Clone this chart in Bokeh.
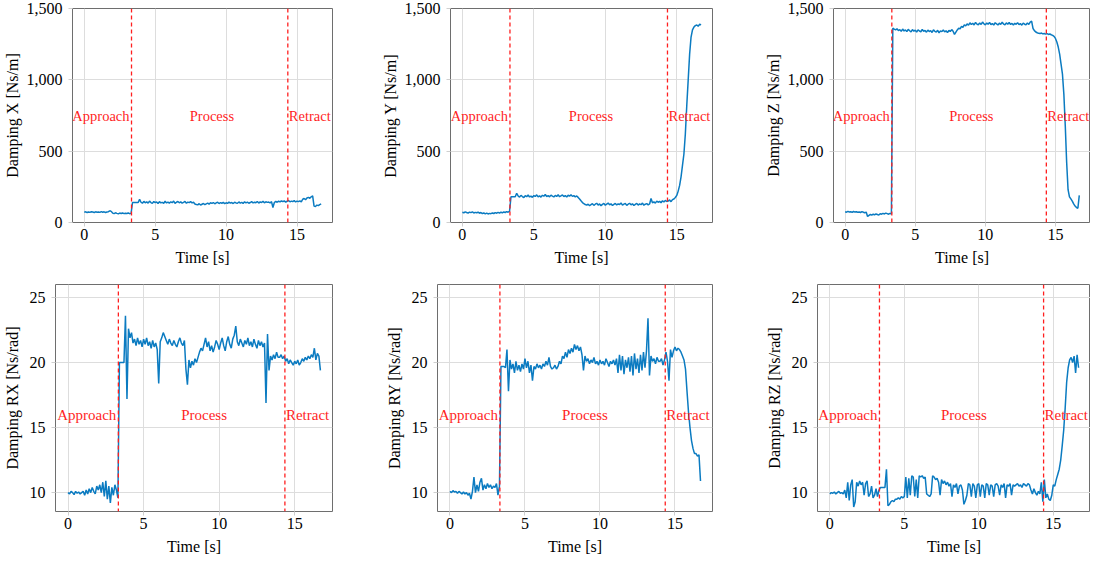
from bokeh.plotting import figure
from bokeh.layouts import column, row
from bokeh.models import Range1d, FixedTicker, NumeralTickFormatter, Span, ColumnDataSource
from bokeh.core.properties import value
from bokeh.embed import file_html
from bokeh.resources import INLINE

# ---------------- data (sampled every 0.1 s, 0.0 .. 16.7 s) ----------------
N = 168
time_s = [round(i * 0.1, 1) for i in range(N)]

damping_x = [
    72, 75, 70, 74, 71, 76, 73, 70, 75, 72,
    74, 71, 76, 72, 75, 70, 73, 76, 82, 78,
    66, 62, 68, 64, 61, 66, 63, 67, 62, 65,
    63, 67, 62, 64, 140, 140, 140, 140, 140, 162,
    142, 135, 148, 138, 145, 136, 150, 140, 134, 147,
    139, 144, 133, 146, 138, 141, 135, 149, 137, 143,
    136, 145, 139, 150, 134, 142, 147, 138, 144, 136,
    141, 148, 135, 143, 139, 146, 137, 142, 130, 126,
    124, 132, 122, 128, 133, 125, 131, 136, 129, 138,
    134, 140, 131, 137, 142, 133, 139, 135, 141, 132,
    138, 134, 143, 136, 140, 133, 142, 137, 135, 144,
    136, 141, 134, 145, 138, 143, 135, 140, 146, 137,
    142, 139, 147, 136, 144, 140, 148, 138, 145, 141,
    143, 137, 146, 105, 140, 148, 142, 150, 144, 152,
    146, 151, 143, 149, 154, 145, 150, 147, 153, 144,
    150, 146, 152, 145, 163, 168, 160, 172, 176, 170,
    180, 186, 115, 112, 122, 118, 125, 130,
]

damping_y = [
    72, 68, 75, 70, 66, 73, 69, 74, 67, 71,
    68, 72, 65, 70, 63, 67, 61, 66, 60, 64,
    62, 67, 63, 69, 65, 71, 66, 72, 68, 74,
    70, 76, 72, 78, 180, 180, 180, 180, 205, 186,
    178, 190, 182, 175, 188, 181, 193, 179, 185, 176,
    189, 183, 194, 180, 187, 178, 191, 184, 196, 182,
    188, 180, 192, 185, 179, 190, 183, 194, 181, 187,
    193, 182, 189, 178, 191, 185, 195, 183, 188, 180,
    186, 176, 165, 152, 140, 133, 126, 122, 128, 118,
    125, 132, 120, 128, 135, 122, 130, 118, 127, 134,
    121, 129, 136, 124, 131, 119, 127, 134, 123, 130,
    126, 137, 122, 129, 133, 120, 128, 135, 124, 131,
    119, 127, 134, 122, 130, 125, 136, 121, 128, 132,
    124, 130, 168, 138, 145, 136, 150, 142, 148, 139,
    152, 144, 155, 147, 150, 158, 146, 160, 165, 175,
    190, 220, 260, 320, 400, 480, 620, 820, 1000, 1180,
    1300, 1350, 1370, 1380, 1385, 1375, 1390, 1385,
]

damping_z = [
    75, 72, 78, 74, 76, 71, 77, 73, 75, 72,
    74, 70, 76, 72, 68, 73, 42, 50, 56, 52,
    58, 54, 60, 56, 52, 62, 58, 64, 60, 66,
    62, 58, 64, 60, 1362, 1355, 1350, 1358, 1345, 1352,
    1340, 1356, 1342, 1350, 1338, 1354, 1344, 1336, 1352, 1341,
    1348, 1335, 1350, 1342, 1337, 1353, 1340, 1346, 1334, 1349,
    1338, 1345, 1332, 1350, 1340, 1335, 1347, 1330, 1343, 1338,
    1349, 1336, 1344, 1331, 1346, 1339, 1352, 1341, 1318, 1335,
    1350, 1362, 1358, 1375, 1368, 1385, 1378, 1392, 1383, 1400,
    1388, 1397, 1385, 1402, 1391, 1386, 1399, 1388, 1405, 1392,
    1386, 1398, 1390, 1403, 1387, 1395, 1384, 1400, 1392, 1385,
    1397, 1389, 1404, 1391, 1386, 1399, 1390, 1402, 1388, 1395,
    1384, 1396, 1389, 1401, 1387, 1394, 1383, 1398, 1390, 1386,
    1399, 1388, 1405, 1412, 1360, 1345, 1335, 1330, 1326, 1324,
    1328, 1322, 1325, 1320, 1324, 1318, 1321, 1316, 1312, 1305,
    1290, 1265, 1230, 1180, 1110, 1040, 900, 680, 420, 230,
    180, 165, 150, 130, 115, 105, 100, 190,
]

damping_rx = [
    10.0, 9.9, 10.1, 10.0, 9.85, 10.1, 9.95, 10.05, 9.9, 10.0,
    10.1, 9.8, 10.2, 9.9, 10.3, 10.0, 10.4, 10.1, 9.9, 10.5,
    10.2, 10.6, 10.0, 10.8, 9.7, 10.9, 9.5, 10.5, 9.2, 10.4,
    9.8, 10.6, 10.2, 9.6, 20.0, 20.0, 20.0, 20.0, 23.6, 17.2,
    22.6, 21.9, 22.3, 21.5, 21.8, 21.3, 21.9, 21.4, 21.7, 21.2,
    21.8, 21.4, 21.9, 21.3, 21.6, 21.1, 21.7, 21.2, 21.5, 21.0,
    18.4, 21.6, 21.9, 22.3, 22.0, 21.7, 21.4, 21.8, 21.5, 21.3,
    21.7, 21.4, 21.2, 21.6, 21.9, 21.5, 21.3, 21.7, 19.5, 18.3,
    20.2, 19.6, 20.1, 19.8, 20.3, 20.0, 20.4, 20.8, 21.1, 20.9,
    21.4, 21.9, 21.2, 21.6, 20.9, 21.3, 20.8, 21.2, 21.7, 21.4,
    21.0, 21.5, 21.9, 21.3, 20.9, 21.6, 22.0, 21.4, 21.1, 21.8,
    22.1, 22.8, 21.6, 21.3, 21.8, 21.5, 21.2, 21.7, 21.4, 21.9,
    21.3, 21.6, 21.2, 21.8, 21.4, 21.1, 21.7, 21.3, 21.6, 21.2,
    21.5, 16.9, 22.2, 19.4, 20.5, 20.2, 20.6, 20.3, 20.8, 20.4,
    20.4, 20.6, 20.3, 20.5, 20.1, 20.3, 19.9, 20.2, 20.0, 19.8,
    20.1, 19.9, 20.2, 19.8, 20.0, 20.3, 20.1, 20.4, 20.2, 20.5,
    20.3, 20.6, 20.4, 21.1, 20.2, 20.7, 20.5, 19.4,
]

damping_ry = [
    10.1, 10.0, 10.15, 10.05, 10.1, 9.95, 10.1, 10.0, 9.9, 10.05,
    9.9, 10.0, 9.8, 9.95, 9.5, 10.1, 11.2, 10.0, 10.6, 10.1,
    10.8, 11.1, 10.2, 10.6, 10.3, 10.7, 10.4, 10.6, 10.3, 10.5,
    10.4, 10.7, 9.8, 10.5, 19.7, 19.7, 19.7, 19.6, 21.0, 17.8,
    20.2, 19.5, 19.9, 19.2, 20.1, 19.4, 19.8, 19.3, 19.9, 19.5,
    20.3, 19.6, 20.1, 19.2, 19.8, 18.6, 19.7, 19.5, 19.9, 19.6,
    19.8, 19.5, 19.9, 19.7, 20.1, 19.8, 20.4, 19.7, 19.5, 19.6,
    19.8, 19.5, 19.7, 20.1, 19.9, 20.5, 20.3, 20.8, 20.4, 21.0,
    20.7, 21.1, 20.8, 21.4, 21.0, 21.3, 20.9, 21.2, 20.6, 19.4,
    20.5, 20.1, 20.3, 19.9, 20.2, 20.0, 20.4, 19.9, 20.1, 19.8,
    20.2, 19.9, 20.1, 19.8, 20.3, 20.0, 19.7, 20.1, 19.9, 20.2,
    19.8, 20.3, 19.2, 20.6, 19.4, 20.5, 19.1, 20.2, 19.6, 20.4,
    19.3, 20.5, 19.0, 20.7, 19.5, 20.3, 19.2, 20.6, 19.4, 20.8,
    19.6, 20.9, 23.4, 19.0, 20.5, 20.1, 20.3, 19.9, 20.4, 20.1,
    20.1, 20.3, 19.8, 20.2, 20.8, 20.1, 18.6, 21.0, 20.4, 20.9,
    21.2, 20.9, 21.1, 21.0, 20.8, 20.5, 20.2, 19.5, 17.8, 16.2,
    15.0, 14.0, 13.4, 13.0, 13.0, 12.8, 12.9, 10.9,
]

damping_rz = [
    9.9, 10.0, 9.95, 10.05, 9.9, 10.0, 10.1, 9.95, 10.0, 9.9,
    10.2, 9.6, 10.8, 9.4, 10.6, 11.0, 8.9, 9.3, 10.8, 10.5,
    10.9, 10.6, 10.8, 9.8, 10.7, 10.9, 9.7, 9.9, 10.5, 9.6,
    9.8, 10.3, 9.7, 10.2, 10.4, 10.4, 10.4, 10.4, 11.8, 9.0,
    9.1, 9.3, 9.4, 9.3, 9.5, 9.5, 9.6, 9.5, 9.7, 9.6,
    9.7, 11.2, 9.6, 11.1, 9.8, 11.3, 11.2, 9.7, 11.0, 9.6,
    11.3, 11.2, 11.3, 11.1, 11.2, 9.9, 9.8, 9.7, 9.9, 11.3,
    11.2, 11.0, 11.1, 10.8, 9.8, 11.0, 10.7, 10.9, 10.6, 10.8,
    10.5, 10.7, 9.7, 10.6, 10.4, 10.7, 9.9, 10.5, 10.6, 10.2,
    9.1, 9.4, 9.8, 10.7, 10.6, 9.7, 10.7, 10.5, 9.6, 10.6,
    10.7, 9.7, 10.6, 10.5, 9.6, 10.7, 10.6, 9.8, 10.6, 10.5,
    9.7, 10.6, 10.7, 10.5, 9.8, 10.6, 10.4, 10.7, 9.6, 10.6,
    10.5, 10.7, 9.8, 10.6, 10.5, 10.6, 10.7, 10.5, 10.6, 10.4,
    10.7, 10.6, 10.5, 10.7, 10.6, 10.2, 9.9, 10.3, 10.0, 9.8,
    10.1, 9.9, 10.8, 9.3, 11.0, 9.6, 9.9, 9.5, 9.4, 9.8,
    10.6, 10.5, 11.0, 11.4, 11.8, 12.5, 13.6, 14.8, 16.5, 18.5,
    19.6, 20.2, 20.4, 20.0, 20.5, 19.2, 20.6, 19.6,
]

phase_bounds = [3.33, 14.35]
phase_names = ["Approach", "Process", "Retract"]
process_center = 9.0

top_labels = ["Damping X [Ns/m]", "Damping Y [Ns/m]", "Damping Z [Ns/m]"]
bot_labels = ["Damping RX [Ns/rad]", "Damping RY [Ns/rad]", "Damping RZ [Ns/rad]"]
x_ticks = [0, 5, 10, 15]
top_y_ticks = [0, 500, 1000, 1500]
bot_y_ticks = [10, 15, 20, 25]

# ---------------- styling ----------------
FONT = "Liberation Serif"
FONT_V = value(FONT)
BLUE = "#0b7bc1"
RED = "#ff1f1f"


def make_panel(values, ylabel, yrange, yticks, label_y, fw, fh, bl, br, bt, bb,
               top_row, phase_size, ylab_standoff):
    p = figure(frame_width=fw, frame_height=fh, output_backend="svg",
               toolbar_location=None,
               x_range=Range1d(-0.83, 17.5), y_range=Range1d(*yrange),
               min_border_left=bl, min_border_right=br,
               min_border_top=bt, min_border_bottom=bb)
    src = ColumnDataSource(dict(t=time_s, v=values))
    p.line("t", "v", source=src, line_color=BLUE, line_width=1.5)

    for b in phase_bounds:
        p.add_layout(Span(location=b, dimension="height", line_color=RED,
                          line_dash="4 3", line_width=1.3))
    fs = f"{phase_size}px"
    p.text(x=[phase_bounds[0]], y=[label_y], text=[phase_names[0]],
           text_align="right", text_baseline="middle", x_offset=-2,
           text_color=RED, text_font=FONT_V, text_font_size=fs)
    p.text(x=[process_center], y=[label_y], text=[phase_names[1]],
           text_align="center", text_baseline="middle",
           text_color=RED, text_font=FONT_V, text_font_size=fs)
    p.text(x=[phase_bounds[1]], y=[label_y], text=[phase_names[2]],
           text_align="left", text_baseline="middle", x_offset=1,
           text_color=RED, text_font=FONT_V, text_font_size=fs)

    p.xaxis.ticker = FixedTicker(ticks=x_ticks)
    p.yaxis.ticker = FixedTicker(ticks=yticks)
    if top_row:
        p.yaxis.formatter = NumeralTickFormatter(format="0,0")
    p.xaxis.axis_label = "Time [s]"
    p.yaxis.axis_label = ylabel
    for ax in (p.xaxis, p.yaxis):
        ax.axis_label_text_font = FONT
        ax.axis_label_text_font_size = "16px"
        ax.axis_label_text_font_style = "normal"
        ax.axis_label_text_color = "black"
        ax.major_label_text_font = FONT
        ax.major_label_text_font_size = "16px"
        ax.major_label_text_color = "black"
        ax.axis_line_color = None
        ax.major_tick_line_color = "#cfcfcf"
        ax.major_tick_out = 4
        ax.major_tick_in = 0
        ax.minor_tick_line_color = None
    p.xaxis.major_label_standoff = 2
    p.xaxis.axis_label_standoff = 6
    p.yaxis.major_label_standoff = 6
    p.yaxis.axis_label_standoff = ylab_standoff
    p.grid.grid_line_color = "#dddddd"
    p.grid.grid_line_width = 1
    p.outline_line_color = "#6e6e6e"
    p.outline_line_width = 1
    p.background_fill_color = "white"
    p.border_fill_color = "white"
    return p


top_vals = [damping_x, damping_y, damping_z]
bot_vals = [damping_rx, damping_ry, damping_rz]

# geometry: (frame width, left border, right border)
top_geo = [(260, 72, 30), (262, 88, 30), (257, 91, 0)]
bot_geo = [(277, 55, 30), (275, 75, 30), (273, 75, 0)]

top_row = []
for vals, lab, (fw, bl, br) in zip(top_vals, top_labels, top_geo):
    top_row.append(make_panel(vals, lab, (0, 1500), top_y_ticks, 750,
                              fw, 214, bl, br, 8, 62, True, 14.5, 3))
bot_row = []
for vals, lab, (fw, bl, br) in zip(bot_vals, bot_labels, bot_geo):
    bot_row.append(make_panel(vals, lab, (8.55, 26.0), bot_y_ticks, 16.0,
                              fw, 227, bl, br, 0, 50, False, 15, 6))

layout = column(row(*top_row, spacing=0), row(*bot_row, spacing=0), spacing=0)

open("out.html", "w").write(file_html(layout, INLINE))
